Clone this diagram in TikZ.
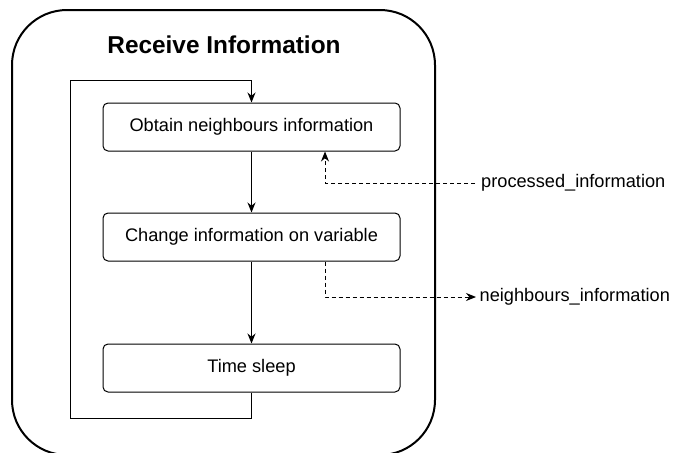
\documentclass[tikz,border=0pt]{standalone}
\usepackage{fontspec}
\setmainfont{Liberation Sans}
\usetikzlibrary{arrows.meta,positioning}
\tikzset{
  stepbox/.style={draw, rounded corners=5pt, minimum width=297pt, minimum height=48pt,
    font=\fontsize{18.2}{21}\selectfont, line width=1pt},
  flow/.style={-{Stealth[length=10pt, width=8pt]}, line width=1pt},
  dflow/.style={flow, dash pattern=on 4pt off 3pt},
  lbl/.style={font=\fontsize{18.2}{21}\selectfont, inner sep=3pt},
  ttl/.style={font=\fontsize{24.4}{28}\selectfont\bfseries},
}

\begin{document}
\begin{tikzpicture}[x=1pt, y=-1pt]
\useasboundingbox (0,0) rectangle (673,453);
\begin{scope}
  \clip (0,0) rectangle (673,453);
  \draw[line width=2pt, rounded corners=55pt] (12,10) rectangle (435,455);
\end{scope}
\node[ttl] (title) at (224,45) {Receive Information};
% steps
\node[stepbox] (obtain) at (251.5,127) {Obtain neighbours information};
\node[stepbox, below=61pt of obtain] (change) {Change information on variable};
\node[stepbox, below=82pt of change] (sleep) {Time sleep};
\draw[flow] (obtain) -- (change);
\draw[flow] (change) -- (sleep);
% loop back
\coordinate (lpbot) at (70,418);
\coordinate (lptop) at (70,80);
\draw[flow] (sleep.south) |- (lpbot) -- (lptop) -| (obtain.north);
% data in and out
\node[lbl, anchor=west, inner sep=6pt] (proc) at (475,183) {processed\_information};
\node[lbl, anchor=west, inner sep=3.5pt] (neigh) at (476,297) {neighbours\_information};
\draw[dflow] (proc.west) -| ([xshift=73.5pt]obtain.south);
\draw[dflow] ([xshift=73.5pt]change.south) |- (neigh.west);
\end{tikzpicture}
\end{document}
